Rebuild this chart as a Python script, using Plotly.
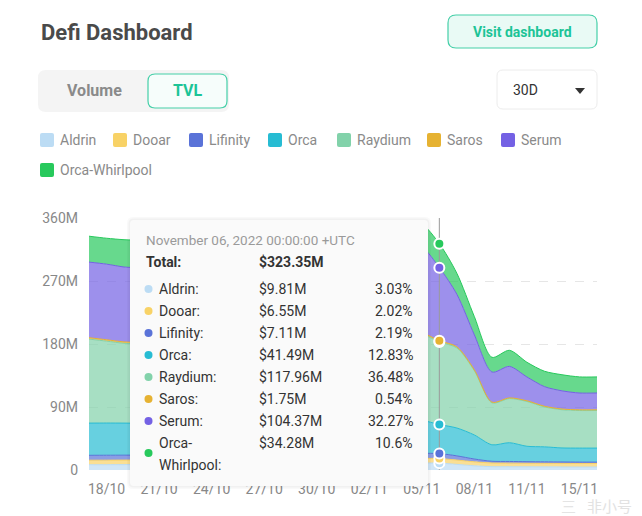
import plotly.graph_objects as go
import pandas as pd

# ---------------- data ----------------
dates = pd.date_range("2022-10-17", "2022-11-15", freq="D")

series_names = ["Aldrin", "Dooar", "Lifinity", "Orca", "Raydium", "Saros", "Serum", "Orca-Whirlpool"]
series_colors = ["#bcdcf4", "#f8d266", "#5a73d8", "#27bcd3", "#82d2aa", "#e6b232", "#7461e4", "#27c95c"]

aldrin = [7.5, 7.6, 7.7, 7.8, 7.9, 8.0, 8.2, 8.4, 8.5, 8.7,
          8.9, 9.0, 9.2, 9.3, 9.5, 9.6, 9.8, 9.9, 10.0, 10.0,
          9.81, 8.0, 6.0, 4.8, 4.7, 4.6, 4.5, 4.4, 4.3, 4.3]
dooar = [6.5, 6.5, 6.5, 6.5, 6.4, 6.4, 6.5, 6.5, 6.6, 6.6,
         6.5, 6.5, 6.6, 6.6, 6.7, 6.6, 6.6, 6.6, 6.6, 6.6,
         6.55, 6.2, 5.7, 5.2, 5.1, 5.0, 5.0, 5.0, 5.0, 5.0]
lifinity = [7.0, 7.0, 7.0, 7.0, 7.1, 7.1, 7.2, 7.2, 7.3, 7.2,
            7.2, 7.1, 7.1, 7.2, 7.2, 7.3, 7.2, 7.2, 7.2, 7.2,
            7.11, 6.0, 4.0, 2.5, 2.4, 2.3, 2.2, 2.1, 2.0, 2.0]
orca = [46.0, 46.0, 45.8, 45.5, 45.0, 44.6, 44.2, 44.0, 43.6, 43.2,
        43.0, 42.8, 43.1, 43.5, 44.0, 45.2, 46.0, 46.8, 47.3, 47.2,
        41.49, 39.8, 34.3, 23.5, 26.8, 22.0, 21.4, 20.0, 20.0, 20.0]
raydium = [120.0, 117.0, 114.0, 113.5, 114.0, 115.2, 116.5, 117.0, 116.0, 115.5,
           116.8, 118.0, 119.5, 120.0, 121.2, 122.5, 123.0, 123.5, 123.8, 123.2,
           117.96, 114.5, 91.8, 60.0, 63.0, 64.0, 57.0, 54.6, 53.7, 53.7]
saros = [2.0, 2.0, 2.0, 2.0, 2.0, 1.9, 1.9, 1.9, 1.9, 1.9,
         1.9, 1.9, 1.8, 1.8, 1.8, 1.8, 1.8, 1.8, 1.8, 1.8,
         1.75, 1.5, 1.2, 1.0, 1.0, 1.0, 1.0, 1.0, 1.0, 1.0]
serum = [108.0, 108.0, 107.0, 106.5, 106.0, 106.8, 108.0, 109.0, 108.5, 107.8,
         108.6, 110.0, 111.5, 113.0, 115.0, 117.0, 119.0, 120.5, 121.0, 122.0,
         104.37, 75.0, 50.0, 43.0, 45.0, 34.0, 28.0, 26.0, 24.0, 24.0]
orca_whirlpool = [37.0, 37.0, 39.0, 39.5, 40.0, 39.6, 38.8, 38.0, 37.5, 37.2,
                  37.0, 36.8, 36.5, 36.2, 36.0, 35.8, 35.5, 35.2, 34.5, 33.0,
                  34.28, 30.0, 26.0, 21.0, 23.0, 21.0, 22.0, 23.0, 23.0, 23.0]
series_values = [aldrin, dooar, lifinity, orca, raydium, saros, serum, orca_whirlpool]

y_tickvals = [0, 90, 180, 270, 360]
y_ticktext = ["0", "90M", "180M", "270M", "360M"]
x_tickvals = ["2022-10-18", "2022-10-21", "2022-10-24", "2022-10-27", "2022-10-30",
              "2022-11-02", "2022-11-05", "2022-11-08", "2022-11-11", "2022-11-14"]
x_ticktext = ["18/10", "21/10", "24/10", "27/10", "30/10", "02/11", "05/11", "08/11", "11/11", "15/11"]

hover_index = 20
tooltip_total = 323.35
tooltip_share = [3.03, 2.02, 2.19, 12.83, 36.48, 0.54, 32.27, 10.6]

# ---------------- helpers ----------------
W, H = 642, 516
FONT = "Roboto"


def px(x):
    return x / W


def py(y):
    return 1 - y / H


def rgba(hex_color, a):
    h = hex_color.lstrip("#")
    r, g, b = int(h[0:2], 16), int(h[2:4], 16), int(h[4:6], 16)
    return f"rgba({r},{g},{b},{a})"


def rrect(x0, y0, x1, y1, r):
    rx, ry = r / W, r / H
    X0, X1 = px(x0), px(x1)
    Y0, Y1 = py(y0), py(y1)
    return (f"M{X0 + rx},{Y0} L{X1 - rx},{Y0} Q{X1},{Y0} {X1},{Y0 - ry} "
            f"L{X1},{Y1 + ry} Q{X1},{Y1} {X1 - rx},{Y1} L{X0 + rx},{Y1} "
            f"Q{X0},{Y1} {X0},{Y1 + ry} L{X0},{Y0 - ry} Q{X0},{Y0} {X0 + rx},{Y0} Z")


shapes = []
annotations = []


def add_rrect(x0, y0, x1, y1, r, fill, line=None, lw=1):
    shapes.append(dict(type="path", xref="paper", yref="paper", layer="above",
                       path=rrect(x0, y0, x1, y1, r), fillcolor=fill,
                       line=dict(color=line if line else "rgba(0,0,0,0)", width=lw if line else 0)))


def add_text(x, y, text, size=14, color="#333", anchor="left", weight=None, family=FONT):
    f = dict(family=family, size=size, color=color)
    if weight:
        f["weight"] = weight
    annotations.append(dict(x=px(x), y=py(y), xref="paper", yref="paper", text=text,
                            showarrow=False, xanchor=anchor, yanchor="middle", font=f))


# ---------------- figure ----------------
fig = go.Figure()
for name, vals, col in zip(series_names, series_values, series_colors):
    fig.add_trace(go.Scatter(
        x=dates, y=vals, name=name, stackgroup="tvl", mode="lines",
        line=dict(color=col, width=1, shape="spline", smoothing=0.8),
        fillcolor=rgba(col, 0.7), hoverinfo="skip", showlegend=False))

hover_date = dates[hover_index]
fig.add_trace(go.Scatter(x=[hover_date, hover_date], y=[0, y_tickvals[-1]], mode="lines",
                         line=dict(color="#9a9a9a", width=1), hoverinfo="skip", showlegend=False))

cum = []
s = 0
for vals in series_values:
    s += vals[hover_index]
    cum.append(s)
fig.add_trace(go.Scatter(x=[hover_date] * len(cum), y=cum, mode="markers",
                         marker=dict(size=10, color=series_colors, line=dict(color="white", width=2)),
                         hoverinfo="skip", showlegend=False))

# header
add_text(39, 32, "<b>Defi Dashboard</b>", size=22, color="#4a4a4a")
add_rrect(448, 15, 597, 48, 8, "#e9faf5", "#45cfa8", 1.2)
add_text(522.5, 32, "<b>Visit dashboard</b>", size=14, color="#1cc497", anchor="center")
add_rrect(38, 70, 229, 112, 8, "#f4f4f4")
add_text(95, 91, "<b>Volume</b>", size=16, color="#8a8a8a", anchor="center")
add_rrect(148, 74, 227, 108, 7, "#f6fdfb", "#45cfa8", 1.2)
add_text(187.5, 91, "<b>TVL</b>", size=16, color="#1cc497", anchor="center")
add_rrect(497, 70, 597, 109, 6, "#ffffff", "#ececec", 1)
add_text(511, 90, "30D", size=14, color="#333333")
shapes.append(dict(type="path", xref="paper", yref="paper", layer="above",
                   path=f"M{px(575)},{py(88)} L{px(585)},{py(88)} L{px(580)},{py(94)} Z",
                   fillcolor="#333333", line=dict(width=0)))

# legend
legend_pos = [(40, 140), (113, 140), (189, 140), (268, 140), (337, 140), (427, 140), (501, 140), (40, 170)]
for (lx, ly), name, col in zip(legend_pos, series_names, series_colors):
    add_rrect(lx, ly - 7, lx + 14, ly + 7, 2, col)
    add_text(lx + 18, ly, name, size=14, color="#8a8a8a")

# tooltip box
add_rrect(127, 217, 431, 489, 6, "rgba(0,0,0,0.025)")
add_rrect(128.5, 218.5, 429.5, 487.5, 5, "rgba(0,0,0,0.03)")
add_rrect(130, 220, 428, 486, 4, "#fafafa")
add_text(144, 240, hover_date.strftime("%B %d, %Y 00:00:00 +UTC"), size=13.5, color="#9a9a9a")
add_text(144, 262, "<b>Total:</b>", size=14, color="#333333")
add_text(257, 262, f"<b>${tooltip_total:.2f}M</b>", size=14, color="#333333")
row_y = 289
for name, vals, col, share in zip(series_names, series_values, series_colors, tooltip_share):
    v = vals[hover_index]
    share_txt = f"{share:.2f}".rstrip("0").rstrip(".") + "%"
    if "-" in name and len(name) > 10:
        first, second = name.split("-", 1)
        dot_y = row_y + 10
        add_text(157, row_y, first + "-", size=14, color="#333333")
        add_text(157, row_y + 22, second + ":", size=14, color="#333333")
    else:
        dot_y = row_y
        add_text(157, row_y, name + ":", size=14, color="#333333")
    shapes.append(dict(type="circle", xref="paper", yref="paper", layer="above",
                       x0=px(144.5), x1=px(152.5), y0=py(dot_y + 4), y1=py(dot_y - 4),
                       fillcolor=col, line=dict(width=0)))
    add_text(257, row_y, f"${v:.2f}M", size=14, color="#333333")
    add_text(415, row_y, share_txt, size=14, color="#333333", anchor="right")
    row_y += 22

# watermark
add_text(568, 505, "三", size=15, color="#e4e4e4", anchor="center", family="Noto Sans CJK SC")
add_text(634, 505, "非小号", size=15, color="#e2e2e2", anchor="right", family="Noto Sans CJK SC")

fig.update_layout(
    width=W, height=H, margin=dict(l=0, r=0, t=0, b=0, autoexpand=False),
    paper_bgcolor="white", plot_bgcolor="white",
    font=dict(family=FONT, size=14, color="#888888"),
    showlegend=False, hovermode=False,
    shapes=shapes, annotations=annotations,
    xaxis=dict(domain=[px(89), px(597)], range=[dates[0], dates[-1]], type="date",
               tickvals=x_tickvals, ticktext=x_ticktext, showgrid=False, zeroline=False,
               showline=False, ticks="", ticklabelstandoff=9,
               tickfont=dict(family=FONT, size=14, color="#888888"),
               automargin=False, fixedrange=True),
    yaxis=dict(domain=[py(470), py(218)], range=[0, 360], tickvals=y_tickvals, ticktext=y_ticktext,
               showgrid=True, gridcolor="#e6e6e6", griddash="dash", gridwidth=1, zeroline=False,
               showline=False, ticks="", ticklabelstandoff=10,
               tickfont=dict(family=FONT, size=14, color="#888888"),
               automargin=False, fixedrange=True),
)

fig.write_html("out.html", config={"responsive": False, "displayModeBar": False},
               post_script="document.body.style.margin='0';document.body.style.overflow='hidden';")
